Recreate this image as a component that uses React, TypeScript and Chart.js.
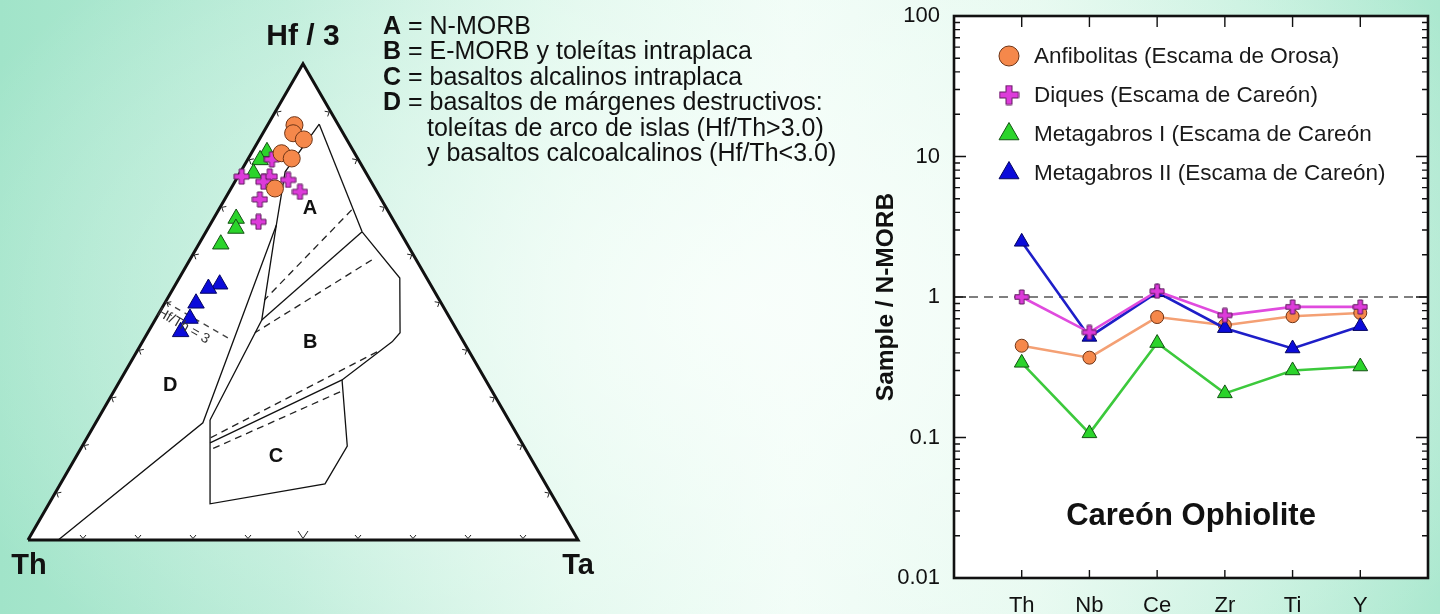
import React, { useEffect, useRef } from "react";
import { Chart, registerables } from "chart.js";

Chart.register(...registerables);

const FONT = "'Liberation Sans', Arial, Helvetica, sans-serif";

// ===== Right panel: N-MORB normalised spider diagram =====
const elements = ["Th", "Nb", "Ce", "Zr", "Ti", "Y"];
const anfibolitas = [0.45, 0.37, 0.72, 0.63, 0.73, 0.77];
const diques = [1.0, 0.56, 1.1, 0.74, 0.85, 0.85];
const metagabrosI = [0.34, 0.107, 0.47, 0.206, 0.3, 0.32];
const metagabrosII = [2.47, 0.52, 1.08, 0.6, 0.43, 0.62];
const referenceLevel = 1;
const yTickValues = [0.01, 0.1, 1, 10, 100];
const yTickLabels = ["0.01", "0.1", "1", "10", "100"];
const seriesLabels = [
  "Anfibolitas (Escama de Orosa)",
  "Diques (Escama de Careón)",
  "Metagabros I (Escama de Careón",
  "Metagabros II (Escama de Careón)",
];
const yAxisTitle = "Sample / N-MORB";
const plotCaption = "Careón Ophiolite";

// ===== Left panel: Hf/3 - Th - Ta ternary (values as [Hf/3, Th, Ta] %) =====
const vertexLabels = ["Th", "Ta", "Hf / 3"];
const ternaryCorners = [
  [0, 100, 0],
  [0, 0, 100],
  [100, 0, 0],
];
const ternaryTickFractions = [10, 20, 30, 40, 50, 60, 70, 80, 90];
const anfibolitasHfThTa = [
  [87.1, 8.0, 4.9],
  [85.4, 9.1, 5.5],
  [84.1, 7.8, 8.1],
  [81.2, 13.3, 5.5],
  [80.1, 12.0, 7.9],
  [73.8, 18.2, 8.0],
];
const diquesHfThTa = [
  [79.9, 15.7, 4.4],
  [76.3, 23.0, 0.7],
  [76.3, 17.9, 5.8],
  [75.2, 19.6, 5.2],
  [75.6, 14.9, 9.5],
  [73.1, 14.0, 12.9],
  [71.5, 22.1, 6.4],
  [66.8, 24.7, 8.5],
];
const metagabrosIHfThTa = [
  [81.5, 15.8, 2.7],
  [79.8, 17.9, 2.3],
  [77.0, 20.5, 2.5],
  [67.5, 28.4, 4.1],
  [65.4, 29.5, 5.1],
  [62.1, 33.9, 4.0],
];
const metagabrosIIHfThTa = [
  [53.7, 38.3, 8.0],
  [52.8, 40.8, 6.4],
  [49.7, 44.6, 5.7],
  [46.5, 47.3, 6.2],
  [43.7, 50.4, 5.9],
];
// field boundaries
const boundaryD = [
  [0, 94.5, 5.5],
  [24.6, 55.9, 19.5],
  [66.1, 21.8, 12.1],
];
const boundaryLeftABC = [
  [25.2, 54.3, 20.5],
  [46.2, 34.4, 19.4],
  [66.1, 21.8, 12.1],
  [77.3, 14.6, 8.1],
  [87.3, 3.4, 9.3],
];
const boundaryARight = [
  [87.3, 3.4, 9.3],
  [64.7, 6.9, 28.4],
];
const boundaryAB = [
  [46.2, 34.4, 19.4],
  [64.7, 6.9, 28.4],
];
const boundaryBRight = [
  [64.7, 6.9, 28.4],
  [55.0, 4.9, 40.1],
  [43.5, 10.6, 45.9],
  [41.6, 13.0, 45.4],
];
const boundaryBC = [
  [41.6, 13.0, 45.4],
  [33.6, 26.1, 40.3],
  [20.4, 56.7, 22.9],
];
const boundaryC = [
  [33.6, 26.1, 40.3],
  [19.7, 32.1, 48.2],
  [11.8, 40.1, 48.1],
  [7.6, 63.1, 29.3],
  [25.2, 54.3, 20.5],
];
const dashedAB1 = [
  [69.3, 6.5, 24.2],
  [50.4, 31.8, 17.8],
];
const dashedAB2 = [
  [58.8, 8.1, 33.1],
  [43.5, 37.0, 19.5],
];
const dashedBC1 = [
  [39.5, 16.8, 43.7],
  [21.4, 56.2, 22.4],
];
const dashedBC2 = [
  [31.1, 27.7, 41.2],
  [18.9, 57.5, 23.6],
];
const hfThRatio3 = [
  [50, 50, 0],
  [42, 42, 16],
];
const hfThRatioLabel = "Hf/Th = 3";
const fieldLetters = ["A", "B", "C", "D"];
const fieldLetterHfThTa = [
  [69.7, 13.9, 16.4],
  [41.4, 28.0, 30.6],
  [17.6, 46.1, 36.3],
  [32.5, 57.9, 9.6],
];
const fieldKeyLetters = ["A", "B", "C", "D", "", ""];
const fieldKeyTexts = [
  "= N-MORB",
  "= E-MORB y toleítas intraplaca",
  "= basaltos alcalinos intraplaca",
  "= basaltos de márgenes destructivos:",
  "toleítas de arco de islas (Hf/Th>3.0)",
  "y basaltos calcoalcalinos (Hf/Th<3.0)",
];

const ORANGE = { line: "#F4A074", fill: "#F5884B", edge: "#6F3517" };
const MAGENTA = { line: "#E04BDE", fill: "#DD3BDA", edge: "#5E1A5C" };
const GREEN = { line: "#3CC93C", fill: "#2BD42B", edge: "#145214" };
const BLUE = { line: "#1E1EC8", fill: "#0B0BDA", edge: "#050560" };

const SQ3_2 = Math.sqrt(3) / 2;
function ternToXY(p: number[]) {
  const [hf, th, ta] = p;
  const s = hf + th + ta;
  return { x: (ta + hf / 2) / s, y: (hf / s) * SQ3_2 };
}

function makePlus(size: number, arm: number, fill: string, edge: string) {
  const c = document.createElement("canvas");
  c.width = size + 2;
  c.height = size + 2;
  const ctx = c.getContext("2d")!;
  const o = 1;
  const m = (size - arm) / 2;
  ctx.beginPath();
  ctx.moveTo(o + m, o);
  ctx.lineTo(o + m + arm, o);
  ctx.lineTo(o + m + arm, o + m);
  ctx.lineTo(o + size, o + m);
  ctx.lineTo(o + size, o + m + arm);
  ctx.lineTo(o + m + arm, o + m + arm);
  ctx.lineTo(o + m + arm, o + size);
  ctx.lineTo(o + m, o + size);
  ctx.lineTo(o + m, o + m + arm);
  ctx.lineTo(o, o + m + arm);
  ctx.lineTo(o, o + m);
  ctx.lineTo(o + m, o + m);
  ctx.closePath();
  ctx.fillStyle = fill;
  ctx.fill();
  ctx.strokeStyle = edge;
  ctx.lineWidth = 1;
  ctx.stroke();
  return c;
}

function drawMarker(ctx: CanvasRenderingContext2D, kind: any, x: number, y: number, r: number, fill: string, edge: string) {
  ctx.save();
  ctx.fillStyle = fill;
  ctx.strokeStyle = edge;
  ctx.lineWidth = 1;
  if (kind === "circle") {
    ctx.beginPath();
    ctx.arc(x, y, r, 0, Math.PI * 2);
    ctx.fill();
    ctx.stroke();
  } else if (kind === "triangle") {
    ctx.beginPath();
    for (let k = 0; k < 3; k++) {
      const ang = (k * 2 * Math.PI) / 3;
      const px = x + Math.sin(ang) * r;
      const py = y - Math.cos(ang) * r;
      if (k === 0) ctx.moveTo(px, py);
      else ctx.lineTo(px, py);
    }
    ctx.closePath();
    ctx.fill();
    ctx.stroke();
  } else if (kind && kind.width) {
    ctx.drawImage(kind, x - kind.width / 2, y - kind.height / 2);
  }
  ctx.restore();
}

// ---------- Left chart ----------
const TERN_W = 860;
const TERN_H = 614;
const UNIT = 550;
const ORIGIN_X = 28;
const ORIGIN_Y = 540;

const ternaryDecor = {
  id: "ternaryDecor",
  afterDatasetsDraw(chart: any) {
    const { ctx } = chart;
    const sx = chart.scales.x;
    const sy = chart.scales.y;
    const P = (p: number[]) => {
      const q = ternToXY(p);
      return [sx.getPixelForValue(q.x), sy.getPixelForValue(q.y)];
    };
    ctx.save();
    const corners = ternaryCorners.map(P);
    const cx = (corners[0][0] + corners[1][0] + corners[2][0]) / 3;
    const cy = (corners[0][1] + corners[1][1] + corners[2][1]) / 3;
    ctx.strokeStyle = "#222";
    ctx.lineWidth = 1;
    const edges = [
      [0, 1],
      [1, 2],
      [2, 0],
    ];
    edges.forEach(([i, j], ei) => {
      const [ax, ay] = corners[i];
      const [bx, by] = corners[j];
      const ex = bx - ax;
      const ey = by - ay;
      const len = Math.hypot(ex, ey);
      const ux = ex / len;
      const uy = ey / len;
      let nx = -uy;
      let ny = ux;
      if ((cx - ax) * nx + (cy - ay) * ny < 0) {
        nx = -nx;
        ny = -ny;
      }
      ternaryTickFractions.forEach((f) => {
        const px = ax + (ex * f) / 100;
        const py = ay + (ey * f) / 100;
        const big = ei === 0 && f === 50;
        const h = big ? 9 : 5;
        const w = big ? 5 : 3;
        ctx.beginPath();
        ctx.moveTo(px + nx * h - ux * w, py + ny * h - uy * w);
        ctx.lineTo(px + nx * 1.5, py + ny * 1.5);
        ctx.lineTo(px + nx * h + ux * w, py + ny * h + uy * w);
        ctx.stroke();
      });
    });

    // vertex labels
    ctx.fillStyle = "#111";
    ctx.textAlign = "center";
    ctx.textBaseline = "middle";
    ctx.font = `bold 30px ${FONT}`;
    ctx.fillText(vertexLabels[2], corners[2][0], corners[2][1] - 27);
    ctx.font = `bold 29px ${FONT}`;
    ctx.fillText(vertexLabels[0], corners[0][0] + 1, corners[0][1] + 26);
    ctx.fillText(vertexLabels[1], corners[1][0], corners[1][1] + 26);

    // field letters
    ctx.font = `bold 20px ${FONT}`;
    fieldLetters.forEach((l, i) => {
      const [x, y] = P(fieldLetterHfThTa[i]);
      ctx.fillText(l, x, y);
    });

    // Hf/Th = 3 label
    const [x0, y0] = P(hfThRatio3[0]);
    const [x1, y1] = P(hfThRatio3[1]);
    const ang = Math.atan2(y1 - y0, x1 - x0);
    const tx = x0 + (x1 - x0) * 0.36 - Math.sin(ang) * 12;
    const ty = y0 + (y1 - y0) * 0.36 + Math.cos(ang) * 12;
    ctx.save();
    ctx.translate(tx, ty);
    ctx.rotate(ang);
    ctx.font = `14px ${FONT}`;
    ctx.fillStyle = "#333";
    ctx.fillText(hfThRatioLabel, 0, 0);
    ctx.restore();

    // key
    ctx.textAlign = "left";
    ctx.fillStyle = "#111";
    fieldKeyTexts.forEach((t, i) => {
      const y = 27 + i * 25.5;
      const letter = fieldKeyLetters[i];
      if (letter) {
        ctx.font = `bold 25px ${FONT}`;
        ctx.fillText(letter, 383, y);
        const w = ctx.measureText(letter).width;
        ctx.font = `25px ${FONT}`;
        ctx.fillText(" " + t, 383 + w, y);
      } else {
        ctx.font = `25px ${FONT}`;
        ctx.fillText(t, 427, y);
      }
    });
    ctx.restore();
  },
};

function leftConfig(plusImg: HTMLCanvasElement): any {
  const lineDs = (pts: number[][], extra: any = {}) => ({
    data: pts.map(ternToXY),
    showLine: true,
    pointRadius: 0,
    borderColor: "#111",
    borderWidth: 1.3,
    fill: false,
    tension: 0,
    order: 50,
    ...extra,
  });
  const dashed = { borderDash: [7, 5], borderColor: "#222", borderWidth: 1.3 };
  const markerDs = (pts: number[][], style: any, r: number, col: any, order: number) => ({
    data: pts.map(ternToXY),
    showLine: false,
    pointStyle: style,
    pointRadius: r,
    pointBackgroundColor: col.fill,
    pointBorderColor: col.edge,
    pointBorderWidth: 1,
    order,
  });
  return {
    type: "scatter",
    data: {
      datasets: [
        lineDs([...ternaryCorners, ternaryCorners[0]], {
          borderWidth: 3,
          fill: "shape",
          backgroundColor: "#ffffff",
          borderJoinStyle: "miter",
          order: 100,
        }),
        lineDs(boundaryD),
        lineDs(boundaryLeftABC),
        lineDs(boundaryARight),
        lineDs(boundaryAB),
        lineDs(boundaryBRight),
        lineDs(boundaryBC),
        lineDs(boundaryC),
        lineDs(dashedAB1, dashed),
        lineDs(dashedAB2, dashed),
        lineDs(dashedBC1, dashed),
        lineDs(dashedBC2, dashed),
        lineDs(hfThRatio3, { borderDash: [6, 5], borderColor: "#444", borderWidth: 1.3 }),
        markerDs(metagabrosIIHfThTa, "triangle", 9.5, BLUE, 4),
        markerDs(metagabrosIHfThTa, "triangle", 9.5, GREEN, 3),
        markerDs(diquesHfThTa, plusImg, 8, MAGENTA, 2),
        markerDs(anfibolitasHfThTa, "circle", 8.5, ORANGE, 1),
      ],
    },
    options: {
      animation: false,
      responsive: false,
      events: [],
      layout: { padding: 0, autoPadding: false },
      plugins: { legend: { display: false }, tooltip: { enabled: false } },
      scales: {
        x: { type: "linear", display: false, min: -ORIGIN_X / UNIT, max: (TERN_W - ORIGIN_X) / UNIT },
        y: { type: "linear", display: false, min: -(TERN_H - ORIGIN_Y) / UNIT, max: ORIGIN_Y / UNIT },
      },
    },
    plugins: [ternaryDecor],
  };
}

// ---------- Right chart ----------
const spiderDecor = {
  id: "spiderDecor",
  beforeDatasetsDraw(chart: any) {
    const { ctx, chartArea: a } = chart;
    ctx.save();
    ctx.fillStyle = "#ffffff";
    ctx.fillRect(a.left, a.top, a.right - a.left, a.bottom - a.top);
    ctx.restore();
  },
  afterDatasetsDraw(chart: any) {
    const { ctx, chartArea: a, scales } = chart;
    const sx = scales.x;
    const sy = scales.y;
    ctx.save();
    ctx.strokeStyle = "#111";
    ctx.lineWidth = 1.4;
    ctx.beginPath();
    for (let d = 0; d < yTickValues.length - 1; d++) {
      for (let m = 1; m <= 9; m++) {
        const y = sy.getPixelForValue(yTickValues[d] * m);
        const len = m === 1 ? 12 : 6;
        ctx.moveTo(a.left, y);
        ctx.lineTo(a.left + len, y);
        ctx.moveTo(a.right, y);
        ctx.lineTo(a.right - len, y);
      }
    }
    elements.forEach((_, i) => {
      const x = sx.getPixelForValue(i + 1);
      ctx.moveTo(x, a.top);
      ctx.lineTo(x, a.top + 11);
      ctx.moveTo(x, a.bottom);
      ctx.lineTo(x, a.bottom - 8);
    });
    ctx.stroke();
    ctx.lineWidth = 2.6;
    ctx.strokeRect(a.left, a.top, a.right - a.left, a.bottom - a.top);

    ctx.fillStyle = "#111";
    ctx.font = `bold 31px ${FONT}`;
    ctx.textAlign = "center";
    ctx.textBaseline = "middle";
    ctx.fillText(plotCaption, sx.getPixelForValue(3.5), sy.getPixelForValue(0.0275));

    // legend inside plot
    ctx.textAlign = "left";
    ctx.font = `22.5px ${FONT}`;
    const items = chart.data.datasets.filter((d: any) => d.legendMarker);
    items.forEach((d: any, i: number) => {
      const y = a.top + 40 + i * 39;
      const mk = d.legendMarker;
      drawMarker(ctx, mk.kind, a.left + 55, y, mk.r, mk.fill, mk.edge);
      ctx.fillStyle = "#1a1a1a";
      ctx.fillText(d.label, a.left + 80, y + 1);
    });
    ctx.restore();
  },
};

function rightConfig(plusSmall: HTMLCanvasElement, plusLegend: HTMLCanvasElement): any {
  const series = (label: string, vals: number[], col: any, style: any, r: number, legendKind: any, legendR: number, order: number) => ({
    label,
    data: vals.map((v, i) => ({ x: i + 1, y: v })),
    borderColor: col.line,
    borderWidth: 2.6,
    tension: 0,
    pointStyle: style,
    pointRadius: r,
    pointBackgroundColor: col.fill,
    pointBorderColor: col.edge,
    pointBorderWidth: 1,
    order,
    legendMarker: { kind: legendKind, r: legendR, fill: col.fill, edge: col.edge },
  });
  return {
    type: "line",
    data: {
      datasets: [
        {
          label: "N-MORB = 1",
          data: [
            { x: 0, y: referenceLevel },
            { x: elements.length + 1, y: referenceLevel },
          ],
          borderColor: "#555",
          borderDash: [9, 6],
          borderWidth: 1.6,
          pointRadius: 0,
          order: 10,
        },
        series(seriesLabels[0], anfibolitas, ORANGE, "circle", 6.5, "circle", 10, 4),
        series(seriesLabels[1], diques, MAGENTA, plusSmall, 7.5, plusLegend, 10, 1),
        series(seriesLabels[2], metagabrosI, GREEN, "triangle", 8.5, "triangle", 11.5, 3),
        series(seriesLabels[3], metagabrosII, BLUE, "triangle", 8.5, "triangle", 11.5, 2),
      ],
    },
    options: {
      animation: false,
      responsive: false,
      events: [],
      layout: { padding: { left: 8, right: 12, top: 16, bottom: 0 }, autoPadding: false },
      plugins: { legend: { display: false }, tooltip: { enabled: false } },
      scales: {
        x: {
          type: "linear",
          min: 0,
          max: elements.length + 1,
          afterBuildTicks: (s: any) => {
            s.ticks = elements.map((_, i) => ({ value: i + 1 }));
          },
          afterFit: (s: any) => {
            s.height = 36;
            s.paddingLeft = 0;
            s.paddingRight = 0;
          },
          ticks: {
            callback: (v: number) => elements[v - 1] ?? "",
            font: { family: FONT, size: 22, lineHeight: 1 },
            color: "#111",
            padding: 17,
            maxRotation: 0,
            autoSkip: false,
          },
          grid: { display: false, drawTicks: false },
          border: { display: false },
        },
        y: {
          type: "logarithmic",
          min: yTickValues[0],
          max: yTickValues[yTickValues.length - 1],
          afterBuildTicks: (s: any) => {
            s.ticks = yTickValues.map((v) => ({ value: v }));
          },
          afterFit: (s: any) => {
            s.width = 86;
            s.paddingTop = 0;
            s.paddingBottom = 0;
          },
          ticks: {
            callback: (v: number) => yTickLabels[yTickValues.indexOf(v)] ?? "",
            font: { family: FONT, size: 22 },
            color: "#111",
            padding: 14,
            autoSkip: false,
          },
          grid: { display: false, drawTicks: false },
          border: { display: false },
          title: {
            display: true,
            text: yAxisTitle,
            color: "#111",
            font: { family: FONT, size: 24.5, weight: "bold" },
            padding: { top: 4, bottom: 0 },
          },
        },
      },
    },
    plugins: [spiderDecor],
  };
}

const BG =
  "radial-gradient(ellipse 60% 80% at 52% 50%, rgba(250,255,252,0.85) 0%, rgba(250,255,252,0) 100%), linear-gradient(90deg, #a1e4c9 0%, #b7ebd6 20%, #dcf7ea 40%, #eefcf5 55%, #e2f8ed 72%, #c4f0dd 88%, #abe8cf 100%)";

export default function App() {
  const leftRef = useRef<HTMLCanvasElement>(null);
  const rightRef = useRef<HTMLCanvasElement>(null);
  useEffect(() => {
    const plusTern = makePlus(15, 5, MAGENTA.fill, MAGENTA.edge);
    const plusSmall = makePlus(14, 4.5, MAGENTA.fill, MAGENTA.edge);
    const plusLegend = makePlus(19, 6, MAGENTA.fill, MAGENTA.edge);
    const left = new Chart(leftRef.current!, leftConfig(plusTern));
    const right = new Chart(rightRef.current!, rightConfig(plusSmall, plusLegend));
    return () => {
      left.destroy();
      right.destroy();
    };
  }, []);
  return (
    <div
      style={{
        position: "absolute",
        left: 0,
        top: 0,
        width: 1440,
        height: 614,
        overflow: "hidden",
        background: BG,
        fontFamily: FONT,
      }}
    >
      <canvas ref={leftRef} width={TERN_W} height={TERN_H} style={{ position: "absolute", left: 0, top: 0 }} />
      <canvas ref={rightRef} width={580} height={614} style={{ position: "absolute", left: 860, top: 0 }} />
    </div>
  );
}
